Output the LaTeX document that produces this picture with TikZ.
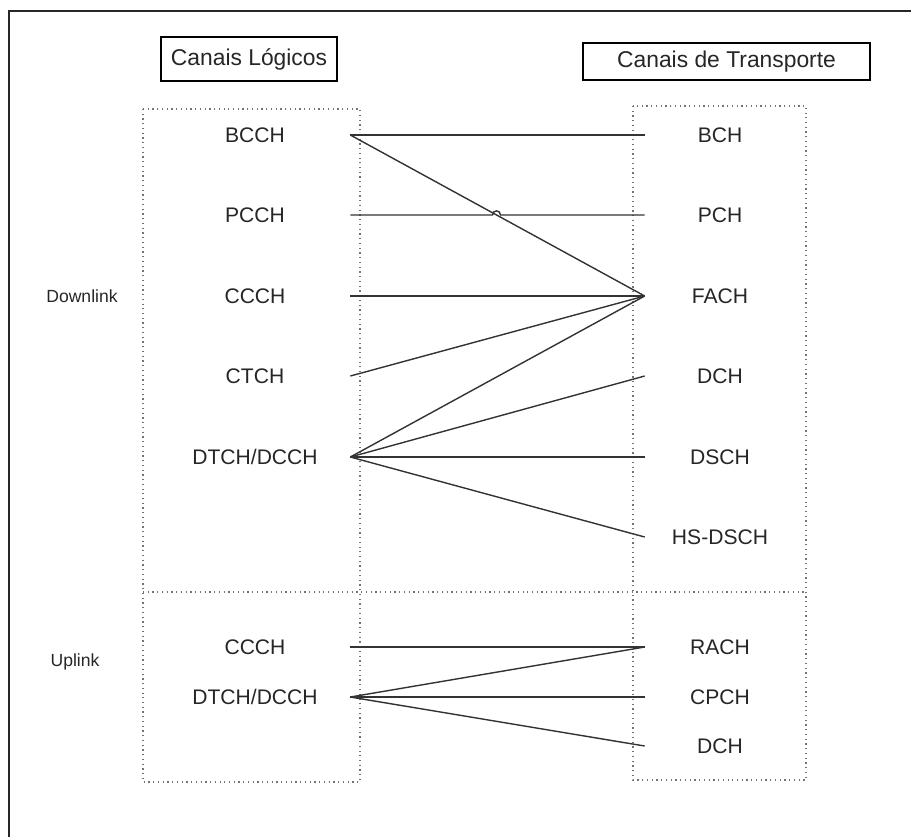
\documentclass[tikz,border=0pt]{standalone}
\usepackage{fontspec}
\setmainfont{Liberation Sans}

\begin{document}
\begin{tikzpicture}[x=0.02cm,y=-0.02cm]
	\tikzset{
		chan/.style={inner sep=0pt, font=\fontsize{12}{14}\selectfont, text=black!85},
		head/.style={draw, line width=0.8pt, inner sep=0pt, font=\fontsize{13}{15}\selectfont, text=black!85},
		dotbox/.style={black!55, dotted, line width=0.7pt},
		link/.style={black!80, line width=0.8pt}
	}
	\useasboundingbox (0,0) rectangle (911,836);

	% outer frame, open to the right and bottom
	\draw[line width=1pt, black!85] (9,840) -- (9,11) -- (915,11);

	% headers
	\node[head, minimum width=3.52cm, minimum height=0.88cm] (hlog) at (249,59) {Canais Lógicos};
	\node[head, minimum width=5.74cm, minimum height=0.74cm] (htra) at (726.5,61.5) {Canais de Transporte};

	% dotted groups
	\draw[dotbox] (143,109) rectangle (360,782);
	\draw[dotbox] (633,106) rectangle (806,780);
	\draw[dotbox] (143,592) -- (806,592);

	\node[chan, font=\fontsize{10}{12}\selectfont] (down) at (82,296) {Downlink};
	\node[chan, font=\fontsize{10}{12}\selectfont] (up) at (75,662) {Uplink};

	% logical channels (east anchor at x=350)
	\foreach \n/\t/\y in {bcch/BCCH/135, pcch/PCCH/215, ccch/CCCH/296, ctch/CTCH/376, dtch/DTCH\slash DCCH/457, ccchu/CCCH/647, dtchu/DTCH\slash DCCH/697}
		\node[chan, minimum width=3.8cm] (l\n) at (255,\y) {\t};

	% transport channels (west anchor at x=645)
	\foreach \n/\t/\y in {bch/BCH/135, pch/PCH/215, fach/FACH/296, dch/DCH/376, dsch/DSCH/457, hsdsch/HS-DSCH/537, rach/RACH/647, cpch/CPCH/697, dchu/DCH/746}
		\node[chan, minimum width=3cm] (r\n) at (720,\y) {\t};

	% mappings
	\foreach \a/\b in {bcch/bch, bcch/fach, ccch/fach, ctch/fach, dtch/fach, dtch/dch, dtch/dsch, dtch/hsdsch, ccchu/rach, dtchu/rach, dtchu/cpch, dtchu/dchu}
		\draw[link] (l\a.east) -- (r\b.west);

	% PCCH -> PCH hops over BCCH -> FACH
	\draw[link] (lpcch.east) -- (492.5,215) .. controls (492.5,209.5) and (500.5,209.5) .. (500.5,215) -- (rpch.west);
\end{tikzpicture}
\end{document}
